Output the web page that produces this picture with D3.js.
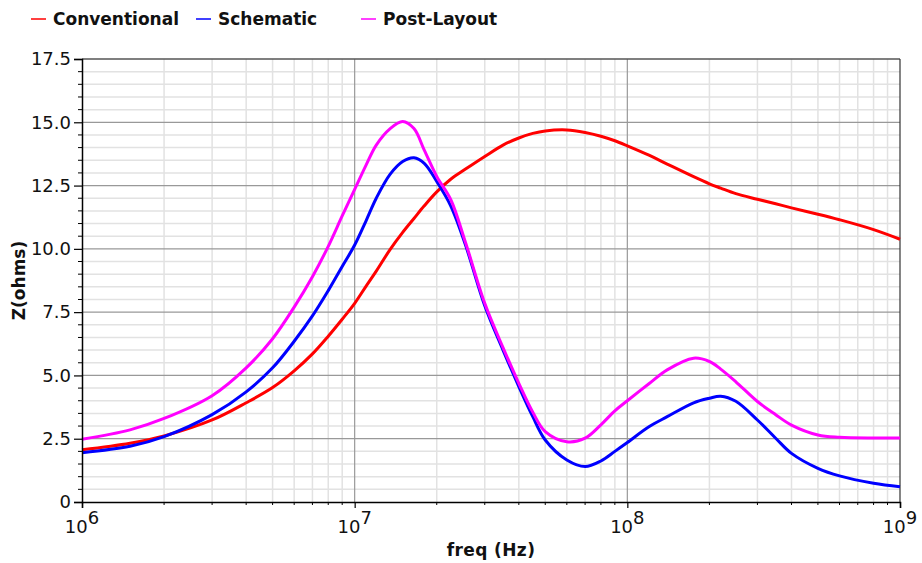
<!DOCTYPE html>
<html>
<head>
<meta charset="utf-8">
<script src="https://cdn.jsdelivr.net/npm/d3@7"></script>
<style>
  html, body { margin: 0; padding: 0; background: #fff; }
  svg { display: block; font-family: "DejaVu Sans", sans-serif; }
</style>
</head>
<body>
<svg id="chart" width="922" height="563"></svg>
<script>
// Impedance vs frequency for three extraction variants
const freq = [1e6, 1.5e6, 2e6, 3e6, 4e6, 5e6, 6e6, 7e6, 8e6, 9e6, 1e7, 1.1e7, 1.2e7, 1.35e7, 1.5e7, 1.65e7, 1.8e7, 2e7, 2.25e7, 2.55e7, 3e7, 3.5e7, 4e7, 4.5e7, 5e7, 6e7, 7e7, 8e7, 9e7, 1e8, 1.2e8, 1.4e8, 1.75e8, 2e8, 2.2e8, 2.5e8, 3e8, 3.5e8, 4e8, 5e8, 6e8, 8e8, 1e9];

const conventional = [2.06, 2.32, 2.61, 3.24, 3.92, 4.52, 5.18, 5.85, 6.55, 7.22, 7.85, 8.52, 9.12, 9.98, 10.65, 11.2, 11.7, 12.25, 12.75, 13.15, 13.65, 14.1, 14.38, 14.56, 14.66, 14.7, 14.6, 14.45, 14.27, 14.07, 13.7, 13.35, 12.85, 12.57, 12.4, 12.18, 11.96, 11.78, 11.62, 11.37, 11.15, 10.76, 10.38];

const schematic = [1.95, 2.2, 2.58, 3.45, 4.35, 5.3, 6.35, 7.35, 8.35, 9.3, 10.15, 11.1, 12.0, 12.95, 13.45, 13.6, 13.38, 12.66, 11.7, 10.15, 7.75, 6.0, 4.56, 3.37, 2.45, 1.66, 1.4, 1.62, 2.0, 2.35, 2.97, 3.37, 3.92, 4.1, 4.18, 3.98, 3.24, 2.52, 1.92, 1.33, 1.03, 0.74, 0.6];

const postLayout = [2.48, 2.85, 3.3, 4.2, 5.3, 6.45, 7.7, 8.9, 10.1, 11.3, 12.35, 13.3, 14.1, 14.75, 15.03, 14.75, 13.9, 12.86, 11.95, 10.25, 7.85, 6.1, 4.69, 3.55, 2.78, 2.38, 2.52, 3.05, 3.6, 4.0, 4.67, 5.22, 5.68, 5.55, 5.25, 4.75, 3.97, 3.45, 3.04, 2.65, 2.56, 2.53, 2.53];

const seriesNames = ["Conventional", "Schematic", "Post-Layout"];
const seriesColors = ["#ff0000", "#0000ff", "#ff00ff"];
const seriesValues = [conventional, schematic, postLayout];

const yMajorTicks = [0, 2.5, 5.0, 7.5, 10.0, 12.5, 15.0, 17.5];
const yTickLabels = ["0", "2.5", "5.0", "7.5", "10.0", "12.5", "15.0", "17.5"];
const xDecades = [6, 7, 8, 9];

const svg = d3.select("#chart");
const margin = { left: 82, right: 22, top: 59, bottom: 61 };
const W = 922, H = 563;
const plotW = W - margin.left - margin.right;
const plotH = H - margin.top - margin.bottom;

const x = d3.scaleLog().domain([1e6, 1e9]).range([margin.left, margin.left + plotW]);
const y = d3.scaleLinear().domain([0, 17.5]).range([margin.top + plotH, margin.top]);

// minor positions
const yMinor = d3.range(0, 17.5001, 0.5).filter(v => Math.abs(v / 2.5 - Math.round(v / 2.5)) > 1e-6);
const xMinor = [];
for (let d = 6; d < 9; d++) for (let m = 2; m <= 9; m++) xMinor.push(m * Math.pow(10, d));

const grid = svg.append("g");
grid.selectAll("line.ymin").data(yMinor).join("line")
  .attr("x1", margin.left).attr("x2", margin.left + plotW)
  .attr("y1", d => y(d)).attr("y2", d => y(d))
  .attr("stroke", "#e2e2e2").attr("stroke-width", 1.5);
grid.selectAll("line.xmin").data(xMinor).join("line")
  .attr("y1", margin.top).attr("y2", margin.top + plotH)
  .attr("x1", d => x(d)).attr("x2", d => x(d))
  .attr("stroke", "#e2e2e2").attr("stroke-width", 1.5);
grid.selectAll("line.ymaj").data(yMajorTicks.slice(1)).join("line")
  .attr("x1", margin.left).attr("x2", margin.left + plotW)
  .attr("y1", d => y(d)).attr("y2", d => y(d))
  .attr("stroke", "#999").attr("stroke-width", 1.2);
grid.selectAll("line.xmaj").data(xDecades.slice(1, 3)).join("line")
  .attr("y1", margin.top).attr("y2", margin.top + plotH)
  .attr("x1", d => x(Math.pow(10, d))).attr("x2", d => x(Math.pow(10, d)))
  .attr("stroke", "#999").attr("stroke-width", 1.2);

// frame top & right
svg.append("line").attr("x1", margin.left).attr("x2", margin.left + plotW)
  .attr("y1", margin.top).attr("y2", margin.top).attr("stroke", "#333").attr("stroke-width", 1.2);
svg.append("line").attr("x1", margin.left + plotW).attr("x2", margin.left + plotW)
  .attr("y1", margin.top).attr("y2", margin.top + plotH).attr("stroke", "#333").attr("stroke-width", 1.2);

// curves
const line = d3.line()
  .x((d, i) => x(freq[i]))
  .y(d => y(d))
  .curve(d3.curveCatmullRom.alpha(0.5));

const curves = svg.append("g");
seriesValues.forEach((vals, k) => {
  curves.append("path")
    .datum(vals)
    .attr("d", line)
    .attr("fill", "none")
    .attr("stroke", seriesColors[k])
    .attr("stroke-width", 3)
    .attr("stroke-linejoin", "round");
});

// y axis
const yAxis = svg.append("g").attr("transform", `translate(${margin.left},0)`);
yAxis.call(d3.axisLeft(y).tickValues(yMajorTicks).tickSize(8).tickPadding(3)
  .tickFormat((d, i) => yTickLabels[i]));
yAxis.append("g").selectAll("line").data(yMinor).join("line")
  .attr("x1", -4).attr("x2", 0).attr("y1", d => y(d)).attr("y2", d => y(d))
  .attr("stroke", "#000");
yAxis.select(".domain").attr("stroke", "#000").attr("stroke-width", 1.5);
yAxis.selectAll(".tick line").attr("stroke", "#000").attr("stroke-width", 1.2);
yAxis.selectAll(".tick text").attr("font-size", 18).attr("fill", "#111")
  .attr("font-family", "DejaVu Sans");

// x axis
const xAxis = svg.append("g").attr("transform", `translate(0,${margin.top + plotH})`);
xAxis.call(d3.axisBottom(x).tickValues(xDecades.map(d => Math.pow(10, d))).tickSize(6).tickFormat(""));
xAxis.append("g").selectAll("line").data(xMinor).join("line")
  .attr("x1", d => x(d)).attr("x2", d => x(d)).attr("y1", 0).attr("y2", 3)
  .attr("stroke", "#000");
xAxis.select(".domain").attr("stroke", "#000").attr("stroke-width", 1.5);
xAxis.selectAll(".tick line").attr("stroke", "#000").attr("stroke-width", 1.2);

const xl = svg.append("g").selectAll("text").data(xDecades).join("text")
  .attr("x", d => x(Math.pow(10, d)))
  .attr("y", 533)
  .attr("text-anchor", "middle")
  .attr("font-size", 18)
  .attr("fill", "#111");
xl.append("tspan").text("10");
xl.append("tspan").attr("dy", -9).text(d => d);

// axis titles
svg.append("text")
  .attr("x", margin.left + plotW / 2).attr("y", 556)
  .attr("text-anchor", "middle")
  .attr("font-size", 17).attr("font-weight", "bold").attr("fill", "#111")
  .attr("letter-spacing", 0.4)
  .text("freq (Hz)");
svg.append("text")
  .attr("transform", `translate(25,${margin.top + plotH / 2}) rotate(-90)`)
  .attr("text-anchor", "middle")
  .attr("font-size", 17).attr("font-weight", "bold").attr("fill", "#111")
  .text("Z(ohms)");

// legend
const legendX = [31, 196, 361];
const leg = svg.append("g");
seriesNames.forEach((name, k) => {
  leg.append("line")
    .attr("x1", legendX[k]).attr("x2", legendX[k] + 15)
    .attr("y1", 19).attr("y2", 19)
    .attr("stroke", seriesColors[k]).attr("stroke-width", 1.5);
  leg.append("text")
    .attr("x", legendX[k] + 22).attr("y", 25)
    .attr("font-size", 17).attr("font-weight", "bold").attr("fill", "#111")
    .text(name);
});
</script>
</body>
</html>
